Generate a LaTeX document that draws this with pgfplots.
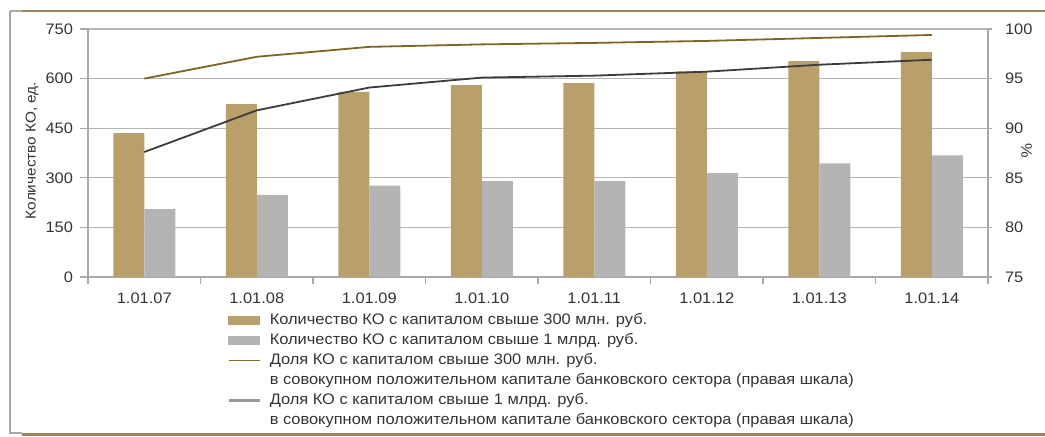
\documentclass[border=0pt]{standalone}
\usepackage{fontspec}
\setmainfont{Liberation Sans}[FakeStretch=1.08]
\usepackage{pgfplots}
\pgfplotsset{compat=1.18}
\definecolor{barbrown}{HTML}{B9A06B}
\definecolor{bargray}{HTML}{B4B4B4}
\definecolor{linebrown}{HTML}{7D6523}
\definecolor{legbrown}{HTML}{8C6D1F}
\definecolor{leggray}{HTML}{999999}
\definecolor{lineblack}{HTML}{3C3C3C}
\definecolor{gridgray}{HTML}{B4B4B4}
\definecolor{axisgray}{HTML}{A8A8A8}
\definecolor{framebrown}{HTML}{9B8659}
\definecolor{txt}{HTML}{333333}
\begin{document}
\begin{tikzpicture}
\useasboundingbox (0,0) rectangle (522.5pt,218pt);
% frame
\draw[axisgray, line width=0.6pt] (5pt,212.5pt) -- (5pt,1.5pt) -- (11pt,1.5pt);
\draw[axisgray, line width=0.6pt] (5pt,212.5pt) -- (11pt,212.5pt);
\draw[framebrown, line width=1.1pt] (11pt,212.6pt) -- (522.5pt,212.6pt);
\draw[framebrown, line width=1.6pt] (11pt,0.9pt) -- (522.5pt,0.9pt);
\begin{axis}[
  at={(44pt,79.5pt)}, anchor=south west,
  scale only axis, width=450pt, height=124pt,
  xmin=-0.5, xmax=7.5, ymin=0, ymax=750,
  ybar=0pt, bar width=15.5pt,
  axis x line*=bottom, axis y line*=left,
  axis line style={axisgray, line width=0.6pt},
  tick align=outside,
  ytick={0,150,...,750},
  ymajorgrids, grid style={gridgray, line width=0.6pt},
  major y tick style={axisgray, line width=0.6pt},
  major tick length=4pt,
  xtick={0,...,7},
  xticklabels={1.01.07,1.01.08,1.01.09,1.01.10,1.01.11,1.01.12,1.01.13,1.01.14},
  major x tick style={draw=none},
  minor xtick={-0.5,0.5,...,7.5},
  minor x tick style={axisgray, line width=0.6pt},
  minor tick length=3.5pt,
  /pgf/number format/assume math mode=true,
  ticklabel style={font=\fontsize{7.6}{9}\selectfont, text=txt},
  xticklabel style={yshift=-0.5pt},
  ylabel={Количество КО, ед.},
  ylabel style={at={(axis description cs:-0.0622,0.51)}, anchor=center, font=\fontsize{7.1}{9}\selectfont, text=txt},
]
\addplot[fill=barbrown, draw=none] coordinates {(0,435) (1,523) (2,560) (3,580) (4,586) (5,622) (6,653) (7,680)};
\addplot[fill=bargray, draw=none] coordinates {(0,205) (1,248) (2,276) (3,290) (4,290) (5,314) (6,344) (7,368)};
\end{axis}
\begin{axis}[
  at={(44pt,79.5pt)}, anchor=south west,
  scale only axis, width=450pt, height=124pt,
  xmin=-0.5, xmax=7.5, ymin=75, ymax=100,
  axis x line=none, axis y line*=right,
  axis line style={axisgray, line width=0.6pt},
  tick align=outside,
  ytick={75,80,...,100},
  major tick length=2pt,
  major y tick style={axisgray, line width=0.6pt},
  /pgf/number format/assume math mode=true,
  yticklabel style={font=\fontsize{7.6}{9}\selectfont, text=txt, xshift=3pt},
  ylabel={\%},
  ylabel style={at={(axis description cs:1.043,0.51)}, anchor=center, rotate=180, font=\fontsize{7.6}{9}\selectfont, text=txt},
  legend style={at={(axis description cs:0.1544,-0.145)}, anchor=north west, draw=none, fill=none,
    inner sep=0pt, row sep=3.0pt,
    nodes={inner sep=0pt, text height=5.5pt, text depth=1.5pt, font=\fontsize{7.6}{9}\selectfont, text=txt},
    /tikz/every odd column/.append style={column sep=4.5pt}},
  legend cell align=left,
]
\addlegendimage{legend image code/.code={\fill[barbrown] (0pt,-1.8pt) rectangle (15.5pt,1.8pt);}}
\addlegendentry{Количество КО с капиталом свыше 300 млн. руб.}
\addlegendimage{legend image code/.code={\fill[bargray] (0pt,-1.8pt) rectangle (15.5pt,1.8pt);}}
\addlegendentry{Количество КО с капиталом свыше 1 млрд. руб.}
\addplot[linebrown, line width=0.9pt, mark=none, legend image code/.code={\draw[legbrown, line width=0.8pt] (0pt,0pt) -- (15.5pt,0pt);}] coordinates {(0,95.0) (1,97.2) (2,98.2) (3,98.45) (4,98.6) (5,98.8) (6,99.1) (7,99.4)};
\addlegendentry{Доля КО с капиталом свыше 300 млн. руб.}
\addlegendimage{empty legend}
\addlegendentry{в совокупном положительном капитале банковского сектора (правая шкала)}
\addplot[lineblack, line width=0.9pt, mark=none, legend image code/.code={\draw[leggray, line width=1.2pt] (0pt,0pt) -- (15.5pt,0pt);}] coordinates {(0,87.6) (1,91.8) (2,94.1) (3,95.1) (4,95.3) (5,95.7) (6,96.4) (7,96.9)};
\addlegendentry{Доля КО с капиталом свыше 1 млрд. руб.}
\addlegendimage{empty legend}
\addlegendentry{в совокупном положительном капитале банковского сектора (правая шкала)}
\end{axis}
\end{tikzpicture}
\end{document}
